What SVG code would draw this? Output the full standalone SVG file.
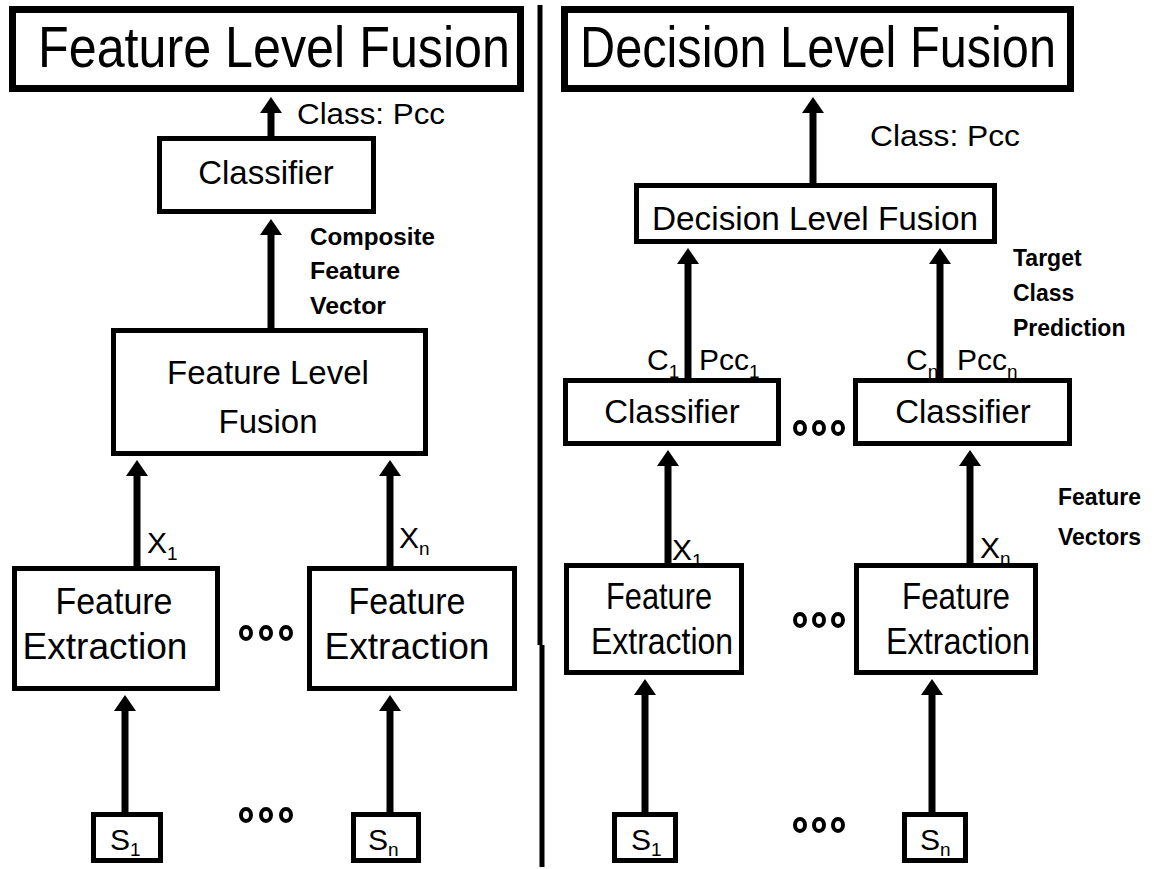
<svg xmlns="http://www.w3.org/2000/svg" width="1154" height="869" viewBox="0 0 1154 869">
  <defs>
    <marker id="head" viewBox="0 0 16 22" markerWidth="16" markerHeight="22" refX="1" refY="11" orient="auto" markerUnits="userSpaceOnUse">
      <path d="M0,0 L16,11 L0,22 z" fill="#000"/>
    </marker>
  </defs>
  <style>
    text { font-family: "Liberation Sans", Arial, sans-serif; fill: #000; }
    .title { font-size: 58px; }
    .box { fill: #fff; stroke: #000; stroke-width: 5; }
    .tbox { fill: #fff; stroke: #000; stroke-width: 7; }
    .lbl { font-size: 33px; text-anchor: middle; }
    .big { font-size: 37px; text-anchor: middle; }
    .note { font-size: 23px; font-weight: bold; }
    .cls { font-size: 29px; }
    .var { font-size: 30px; }
    .sub { font-size: 19px; }
    .edge { stroke: #000; stroke-width: 7; fill: none; marker-end: url(#head); }
    .dot { fill: #fff; stroke: #000; stroke-width: 4; }
  </style>
  <rect width="1154" height="869" fill="#fff"/>

  <!-- vertical separator -->
  <g id="separator">
    <line x1="540" y1="5" x2="540" y2="645" stroke="#000" stroke-width="5"/>
    <line x1="542" y1="645" x2="542" y2="867" stroke="#000" stroke-width="5"/>
  </g>

  <!-- connectors -->
  <g id="connectors">
    <!-- feature level side -->
    <line class="edge" x1="271" y1="136" x2="271" y2="112"/>
    <line class="edge" x1="271" y1="328" x2="271" y2="234"/>
    <line class="edge" x1="137" y1="566" x2="137" y2="475"/>
    <line class="edge" x1="390" y1="566" x2="390" y2="475"/>
    <line class="edge" x1="125" y1="812" x2="125" y2="710"/>
    <line class="edge" x1="390" y1="812" x2="390" y2="710"/>
    <!-- decision level side -->
    <line class="edge" x1="813" y1="183" x2="813" y2="112"/>
    <line class="edge" x1="688" y1="378" x2="688" y2="263"/>
    <line class="edge" x1="940" y1="378" x2="940" y2="263"/>
    <line class="edge" x1="668" y1="563" x2="668" y2="465"/>
    <line class="edge" x1="970" y1="563" x2="970" y2="465"/>
    <line class="edge" x1="645" y1="812" x2="645" y2="694"/>
    <line class="edge" x1="932" y1="812" x2="932" y2="694"/>
  </g>

  <!-- feature level fusion side -->
  <g id="title-feature">
    <rect class="tbox" x="12.5" y="9.5" width="508" height="79"/>
    <text class="title" x="38" y="67" textLength="472" lengthAdjust="spacingAndGlyphs">Feature Level Fusion</text>
  </g>
  <g id="label-class-left">
    <text class="cls" x="297" y="124" textLength="148" lengthAdjust="spacingAndGlyphs">Class:  Pcc</text>
  </g>
  <g id="classifier-fl">
    <rect class="box" x="159.5" y="138.5" width="214" height="73"/>
    <text class="lbl" x="266" y="184">Classifier</text>
  </g>
  <g id="label-composite">
    <text class="note" x="310" y="245" textLength="125" lengthAdjust="spacingAndGlyphs">Composite</text>
    <text class="note" x="310" y="279" textLength="90" lengthAdjust="spacingAndGlyphs">Feature</text>
    <text class="note" x="310" y="314" textLength="76" lengthAdjust="spacingAndGlyphs">Vector</text>
  </g>
  <g id="fusion-fl">
    <rect class="box" x="113.5" y="330.5" width="312" height="123"/>
    <text class="lbl" x="268" y="384">Feature Level</text>
    <text class="lbl" x="268" y="433">Fusion</text>
  </g>
  <g id="label-x-fl">
    <text class="var" x="147" y="553">X<tspan class="sub" dy="7">1</tspan></text>
    <text class="var" x="399" y="548">X<tspan class="sub" dy="7">n</tspan></text>
  </g>
  <g id="extract-fl-1">
    <rect class="box" x="14.5" y="568.5" width="203" height="120"/>
    <text class="big" x="114" y="614" textLength="117" lengthAdjust="spacingAndGlyphs">Feature</text>
    <text class="big" x="105" y="659" textLength="165" lengthAdjust="spacingAndGlyphs">Extraction</text>
  </g>
  <g id="extract-fl-n">
    <rect class="box" x="309.5" y="568.5" width="205" height="120"/>
    <text class="big" x="407" y="614" textLength="117" lengthAdjust="spacingAndGlyphs">Feature</text>
    <text class="big" x="407" y="659" textLength="165" lengthAdjust="spacingAndGlyphs">Extraction</text>
  </g>
  <g id="dots-fl">
    <ellipse class="dot" cx="246" cy="633" rx="5" ry="6"/>
    <ellipse class="dot" cx="266" cy="633" rx="5" ry="6"/>
    <ellipse class="dot" cx="286" cy="633" rx="5" ry="6"/>
    <ellipse class="dot" cx="246" cy="815" rx="5" ry="6"/>
    <ellipse class="dot" cx="266" cy="815" rx="5" ry="6"/>
    <ellipse class="dot" cx="286" cy="815" rx="5" ry="6"/>
  </g>
  <g id="sensor-fl-1">
    <rect class="box" x="93.5" y="814.5" width="67" height="46"/>
    <text class="var" x="110" y="850">S<tspan class="sub" dy="6">1</tspan></text>
  </g>
  <g id="sensor-fl-n">
    <rect class="box" x="353.5" y="814.5" width="65" height="46"/>
    <text class="var" x="368" y="850">S<tspan class="sub" dy="6">n</tspan></text>
  </g>

  <!-- decision level fusion side -->
  <g id="title-decision">
    <rect class="tbox" x="564.5" y="9.5" width="506" height="79"/>
    <text class="title" x="580" y="67" textLength="476" lengthAdjust="spacingAndGlyphs">Decision Level Fusion</text>
  </g>
  <g id="label-class-right">
    <text class="cls" x="870" y="146" textLength="150" lengthAdjust="spacingAndGlyphs">Class:  Pcc</text>
  </g>
  <g id="fusion-dl">
    <rect class="box" x="636.5" y="185.5" width="358" height="56"/>
    <text class="lbl" x="815" y="230" textLength="326" lengthAdjust="spacingAndGlyphs">Decision Level Fusion</text>
  </g>
  <g id="label-target">
    <text class="note" x="1013" y="266">Target</text>
    <text class="note" x="1013" y="301">Class</text>
    <text class="note" x="1013" y="336">Prediction</text>
  </g>
  <g id="label-c">
    <text class="var" x="647" y="370">C<tspan class="sub" dy="8">1</tspan></text>
    <text class="var" x="699" y="370">Pcc<tspan class="sub" dy="8">1</tspan></text>
    <text class="var" x="906" y="370">C<tspan class="sub" dy="8">n</tspan></text>
    <text class="var" x="957" y="370">Pcc<tspan class="sub" dy="8">n</tspan></text>
  </g>
  <g id="classifier-dl-1">
    <rect class="box" x="565.5" y="380.5" width="213" height="63"/>
    <text class="lbl" x="672" y="423">Classifier</text>
  </g>
  <g id="classifier-dl-n">
    <rect class="box" x="855.5" y="380.5" width="214" height="63"/>
    <text class="lbl" x="963" y="423">Classifier</text>
  </g>
  <g id="label-feature-vectors">
    <text class="note" x="1058" y="505">Feature</text>
    <text class="note" x="1058" y="545">Vectors</text>
  </g>
  <g id="label-x-dl">
    <text class="var" x="672" y="560">X<tspan class="sub" dy="7">1</tspan></text>
    <text class="var" x="980" y="558">X<tspan class="sub" dy="7">n</tspan></text>
  </g>
  <g id="extract-dl-1">
    <rect class="box" x="566.5" y="565.5" width="175" height="107"/>
    <text class="big" x="659" y="609" textLength="106" lengthAdjust="spacingAndGlyphs">Feature</text>
    <text class="big" x="662" y="654" textLength="142" lengthAdjust="spacingAndGlyphs">Extraction</text>
  </g>
  <g id="extract-dl-n">
    <rect class="box" x="856.5" y="565.5" width="179" height="107"/>
    <text class="big" x="956" y="609" textLength="108" lengthAdjust="spacingAndGlyphs">Feature</text>
    <text class="big" x="958" y="654" textLength="144" lengthAdjust="spacingAndGlyphs">Extraction</text>
  </g>
  <g id="dots-dl">
    <ellipse class="dot" cx="800" cy="428" rx="5" ry="6"/>
    <ellipse class="dot" cx="819" cy="428" rx="5" ry="6"/>
    <ellipse class="dot" cx="838" cy="428" rx="5" ry="6"/>
    <ellipse class="dot" cx="800" cy="620" rx="5" ry="6"/>
    <ellipse class="dot" cx="819" cy="620" rx="5" ry="6"/>
    <ellipse class="dot" cx="838" cy="620" rx="5" ry="6"/>
    <ellipse class="dot" cx="800" cy="825" rx="5" ry="6"/>
    <ellipse class="dot" cx="819" cy="825" rx="5" ry="6"/>
    <ellipse class="dot" cx="838" cy="825" rx="5" ry="6"/>
  </g>
  <g id="sensor-dl-1">
    <rect class="box" x="614.5" y="814.5" width="61" height="46"/>
    <text class="var" x="631" y="850">S<tspan class="sub" dy="6">1</tspan></text>
  </g>
  <g id="sensor-dl-n">
    <rect class="box" x="904.5" y="814.5" width="61" height="46"/>
    <text class="var" x="920" y="850">S<tspan class="sub" dy="6">n</tspan></text>
  </g>
</svg>
